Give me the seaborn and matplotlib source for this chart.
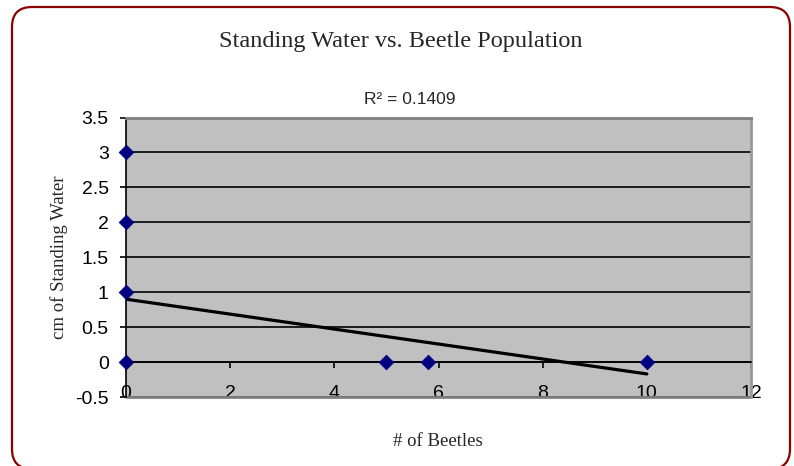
import pandas as pd
import matplotlib.pyplot as plt
import matplotlib.patches as mpatches
import matplotlib.transforms as mtransforms
import seaborn as sns

# data
beetles = [0, 0, 0, 0, 5, 5.8, 10]
water = [3, 2, 1, 0, 0, 0, 0]
trend_x = [0, 10]
trend_y = [0.9, -0.17]
r_squared = 0.1409
y_ticks = [-0.5, 0, 0.5, 1, 1.5, 2, 2.5, 3, 3.5]
x_ticks = [0, 2, 4, 6, 8, 10, 12]

df = pd.DataFrame({"Beetles": beetles, "Water": water})
trend = pd.DataFrame({"x": trend_x, "y": trend_y})

sns.set_style("white")
sans = ["Liberation Sans", "DejaVu Sans"]
serif = ["Liberation Serif", "DejaVu Serif"]
plt.rcParams["font.family"] = sans

W, H = 794, 466
fig = plt.figure(figsize=(W / 100, H / 100), dpi=100)
ax = fig.add_axes([126 / W, (H - 397) / H, (751 - 126) / W, (397 - 117.5) / H])
ax.set_facecolor("#c0c0c0")

# excel style: x axis drawn at y=0, labels pushed to bottom
# (set the spine position first, it resets the ticks)
ax.spines["bottom"].set_position(("data", 0))

# gridlines
for yv in y_ticks:
    ax.axhline(yv, color="black", lw=1.2, zorder=1)

sns.lineplot(data=trend, x="x", y="y", color="black", lw=2.3, ax=ax, zorder=3)
sns.scatterplot(data=df, x="Beetles", y="Water", marker="D", s=55, color="#000080",
                edgecolor="#000080", ax=ax, zorder=4, clip_on=False)

ax.set_xlim(0, 12)
ax.set_ylim(-0.5, 3.5)
ax.set_xticks(x_ticks, [str(v) for v in x_ticks])
ax.set_yticks(y_ticks, [f"{v:g}" for v in y_ticks])

ax.spines["bottom"].set_color("black")
ax.spines["bottom"].set_linewidth(1.2)
ax.spines["left"].set_color("black")
ax.spines["left"].set_linewidth(1.2)
ax.spines["top"].set_color("#808080")
ax.spines["top"].set_linewidth(2)
ax.spines["right"].set_color("#999999")
ax.spines["right"].set_linewidth(2)
ax.axhline(-0.5, color="#808080", lw=2, clip_on=False, zorder=2)
ax.tick_params(axis="x", direction="out", length=4, width=1.2, color="black",
               pad=12.5, labelsize=14, labelcolor="black")
ax.tick_params(axis="y", direction="out", length=4, width=1.2, color="black",
               pad=8.5, labelsize=14, labelcolor="black")
ax.tick_params(left=True, bottom=True)

ax.set_xlabel("# of Beetles", family=serif, fontsize=13.5)
ax.set_ylabel("cm of Standing Water", family=serif, fontsize=13.5)
ax.xaxis.set_label_coords(0.499, -0.13)
ax.yaxis.set_label_coords(-0.093, 0.5)

fig.text(401 / W, 1 - 42 / H, "Standing Water vs. Beetle Population", family=serif,
         fontsize=17.5, ha="center", va="center")
fig.text(410 / W, 1 - 100 / H, f"R² = {r_squared}", family=sans, fontsize=12.5,
         ha="center", va="center")

# rounded chart border
border = mpatches.FancyBboxPatch((12, -3), 778, 462, boxstyle="round,pad=0,rounding_size=20",
                                 fill=False, edgecolor="#8b0000", lw=1.6,
                                 transform=mtransforms.IdentityTransform())
fig.add_artist(border)

fig.savefig("out.png", dpi=100)
